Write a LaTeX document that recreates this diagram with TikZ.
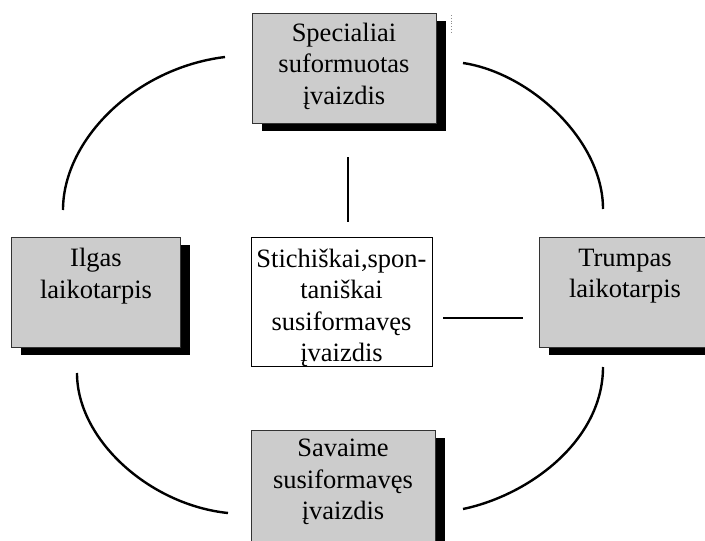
\documentclass[tikz,border=0pt]{standalone}
\usepackage{fontspec}
\setmainfont{Liberation Serif}
\usetikzlibrary{shadows}
\begin{document}
\begin{tikzpicture}[x=1pt, y=-1pt,
  graybox/.style={draw=black!80, line width=1.1pt, fill=black!20,
    anchor=north west, inner sep=0pt,
    drop shadow={shadow xshift=9pt, shadow yshift=-7pt, fill=black, opacity=1, draw=none}},
  whitebox/.style={draw=black, line width=1.3pt, fill=white, anchor=north west, inner sep=0pt},
  lbl/.style={align=center, inner sep=0pt,
    font=\fontsize{26.5}{31.5}\selectfont},
  link/.style={line width=1.8pt, line cap=butt},
  arc/.style={line width=2.4pt}]
  \clip (0,0) rectangle (705,541);

  % boxes
  \node[graybox, minimum width=184pt, minimum height=110pt] (special) at (252,13) {};
  \node[graybox, minimum width=169pt, minimum height=110pt] (longterm) at (11,237) {};
  \node[graybox, minimum width=169pt, minimum height=110pt] (shortterm) at (539,237) {};
  \node[graybox, minimum width=184pt, minimum height=118pt] (selfmade) at (251,430) {};
  \node[whitebox, minimum width=181pt, minimum height=129pt] (spont) at (251,237) {};

  % box texts
  \node[lbl] (specialtxt) at (344,66) {Specialiai\\suformuotas\\įvaizdis};
  \node[lbl] (longtxt) at (96,276) {Ilgas\\laikotarpis};
  \node[lbl] (shorttxt) at (625,276) {Trumpas\\laikotarpis};
  \node[lbl] (selftxt) at (343,482) {Savaime\\susiformavęs\\įvaizdis};
  \node[lbl] (sponttxt) at (341.5,308) {Stichiškai,spon-\\taniškai\\susiformavęs\\įvaizdis};

  % connector end points
  \coordinate (v1) at (348,157);
  \coordinate (v2) at (348,222);
  \coordinate (h1) at (443,318);
  \coordinate (h2) at (523,318);
  \coordinate (tl1) at (63,210);
  \coordinate (tl2) at (225,57);
  \coordinate (tr1) at (463,63);
  \coordinate (tr2) at (603,209);
  \coordinate (bl1) at (77,373);
  \coordinate (bl2) at (228,513);
  \coordinate (br1) at (603,367);
  \coordinate (br2) at (463,509);
  \coordinate (m1) at (451,15);
  \coordinate (m2) at (451,34);

  % straight links
  \draw[link] (v1) -- (v2);
  \draw[link] (h1) -- (h2);

  % curved links around the centre
  \draw[arc] (tl1) .. controls (63,140) and (135,68) .. (tl2);
  \draw[arc] (tr1) .. controls (530,73) and (603,140) .. (tr2);
  \draw[arc] (bl1) .. controls (77,440) and (150,505) .. (bl2);
  \draw[arc] (br1) .. controls (603,440) and (530,495) .. (br2);

  % small dotted mark
  \draw[black!45, dotted, line width=0.8pt] (m1) -- (m2);
\end{tikzpicture}
\end{document}
